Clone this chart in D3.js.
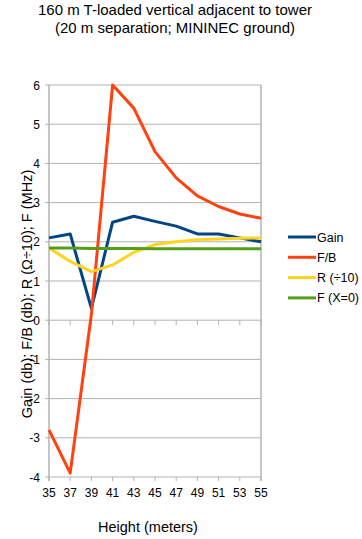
<!DOCTYPE html>
<html>
<head>
<meta charset="utf-8">
<script src="https://cdn.jsdelivr.net/npm/d3@7"></script>
<style>
  body { margin: 0; background: #fff; }
  text { font-family: "Liberation Sans", Arial, sans-serif; fill: #000; }
</style>
</head>
<body>
<div id="chart"></div>
<script>
// data
var heights = [35, 37, 39, 41, 43, 45, 47, 49, 51, 53, 55];
var gain = [2.1, 2.2, 0.3, 2.5, 2.65, 2.52, 2.4, 2.2, 2.2, 2.1, 2.0];
var fb = [-2.8, -3.9, 0.15, 6.0, 5.41, 4.3, 3.63, 3.17, 2.9, 2.71, 2.6];
var rDiv10 = [1.84, 1.5, 1.24, 1.41, 1.73, 1.93, 2.0, 2.05, 2.07, 2.09, 2.1];
var fX0 = [1.84, 1.84, 1.83, 1.83, 1.83, 1.82, 1.82, 1.82, 1.82, 1.82, 1.82];
var yTicks = [-4, -3, -2, -1, 0, 1, 2, 3, 4, 5, 6];

var seriesNames = ["Gain", "F/B", "R (\u00f710)", "F (X=0)"];
var seriesData = [gain, fb, rDiv10, fX0];
var colors = ["#004586", "#ff420e", "#ffd320", "#579d1c"];

var svgWidth = 362;
var svgHeight = 539;
var margin = { top: 85, right: 101, bottom: 62, left: 49 };
var width = svgWidth - margin.left - margin.right;
var height = svgHeight - margin.top - margin.bottom;

var svg = d3.select("#chart")
  .append("svg")
  .attr("width", svgWidth)
  .attr("height", svgHeight);

// title
var title = svg.append("text")
  .attr("text-anchor", "middle")
  .style("font-size", "15px");
title.append("tspan").attr("x", 175).attr("y", 14.5).text("160 m T-loaded vertical adjacent to tower");
title.append("tspan").attr("x", 175).attr("y", 33).text("(20 m separation; MININEC ground)");

var chartGroup = svg.append("g")
  .attr("transform", `translate(${margin.left}, ${margin.top})`);

var x = d3.scaleLinear()
  .domain([d3.min(heights), d3.max(heights)])
  .range([0, width]);

var y = d3.scaleLinear()
  .domain([d3.min(yTicks), d3.max(yTicks)])
  .range([height, 0]);

// horizontal gridlines
chartGroup.append("g")
  .selectAll("line")
  .data(yTicks)
  .enter()
  .append("line")
  .attr("x1", -4)
  .attr("x2", width)
  .attr("y1", d => y(d))
  .attr("y2", d => y(d))
  .attr("stroke", "#b3b3b3")
  .attr("stroke-width", 1);

// left axis line and right frame
chartGroup.append("line")
  .attr("x1", 0).attr("x2", 0)
  .attr("y1", 0).attr("y2", height + 4)
  .attr("stroke", "#b3b3b3").attr("stroke-width", 1.5);
chartGroup.append("line")
  .attr("x1", width).attr("x2", width)
  .attr("y1", 0).attr("y2", height + 4)
  .attr("stroke", "#b3b3b3").attr("stroke-width", 1.5);

// x tick marks at zero line and bottom
chartGroup.append("g")
  .selectAll("line")
  .data(heights)
  .enter()
  .append("line")
  .attr("x1", d => x(d)).attr("x2", d => x(d))
  .attr("y1", y(0)).attr("y2", y(0) + 5)
  .attr("stroke", "#b3b3b3");
chartGroup.append("g")
  .selectAll("line")
  .data(heights)
  .enter()
  .append("line")
  .attr("x1", d => x(d)).attr("x2", d => x(d))
  .attr("y1", height).attr("y2", height + 4)
  .attr("stroke", "#b3b3b3");

// y tick labels
chartGroup.append("g")
  .selectAll("text")
  .data(yTicks)
  .enter()
  .append("text")
  .attr("x", -9)
  .attr("y", d => y(d) + 4.5)
  .attr("text-anchor", "end")
  .style("font-size", "12px")
  .text(d => d);

// x tick labels
chartGroup.append("g")
  .selectAll("text")
  .data(heights)
  .enter()
  .append("text")
  .attr("x", d => x(d))
  .attr("y", height + 20)
  .attr("text-anchor", "middle")
  .style("font-size", "12px")
  .text(d => d);

// lines
var line = d3.line()
  .x((d, i) => x(heights[i]))
  .y(d => y(d));

seriesData.forEach(function(vals, i) {
  chartGroup.append("path")
    .datum(vals)
    .attr("d", line)
    .attr("fill", "none")
    .attr("stroke", colors[i])
    .attr("stroke-width", 3)
    .attr("stroke-linejoin", "round");
});

// axis titles
svg.append("text")
  .attr("x", 148)
  .attr("y", 532)
  .attr("text-anchor", "middle")
  .style("font-size", "14.5px")
  .text("Height (meters)");

svg.append("text")
  .attr("transform", "translate(32, 294) rotate(-90)")
  .attr("text-anchor", "middle")
  .style("font-size", "14.5px")
  .text("Gain (db); F/B (db); R (\u03a9\u00f710); F (MHz)");

// legend
var legend = svg.append("g")
  .attr("transform", "translate(288, 237)");
seriesNames.forEach(function(name, i) {
  var row = legend.append("g").attr("transform", `translate(0, ${i * 20.3})`);
  row.append("line")
    .attr("x1", 0).attr("x2", 28)
    .attr("y1", 0).attr("y2", 0)
    .attr("stroke", colors[i])
    .attr("stroke-width", 3);
  row.append("text")
    .attr("x", 29)
    .attr("y", 4.5)
    .style("font-size", "12.5px")
    .text(name);
});
</script>
</body>
</html>
